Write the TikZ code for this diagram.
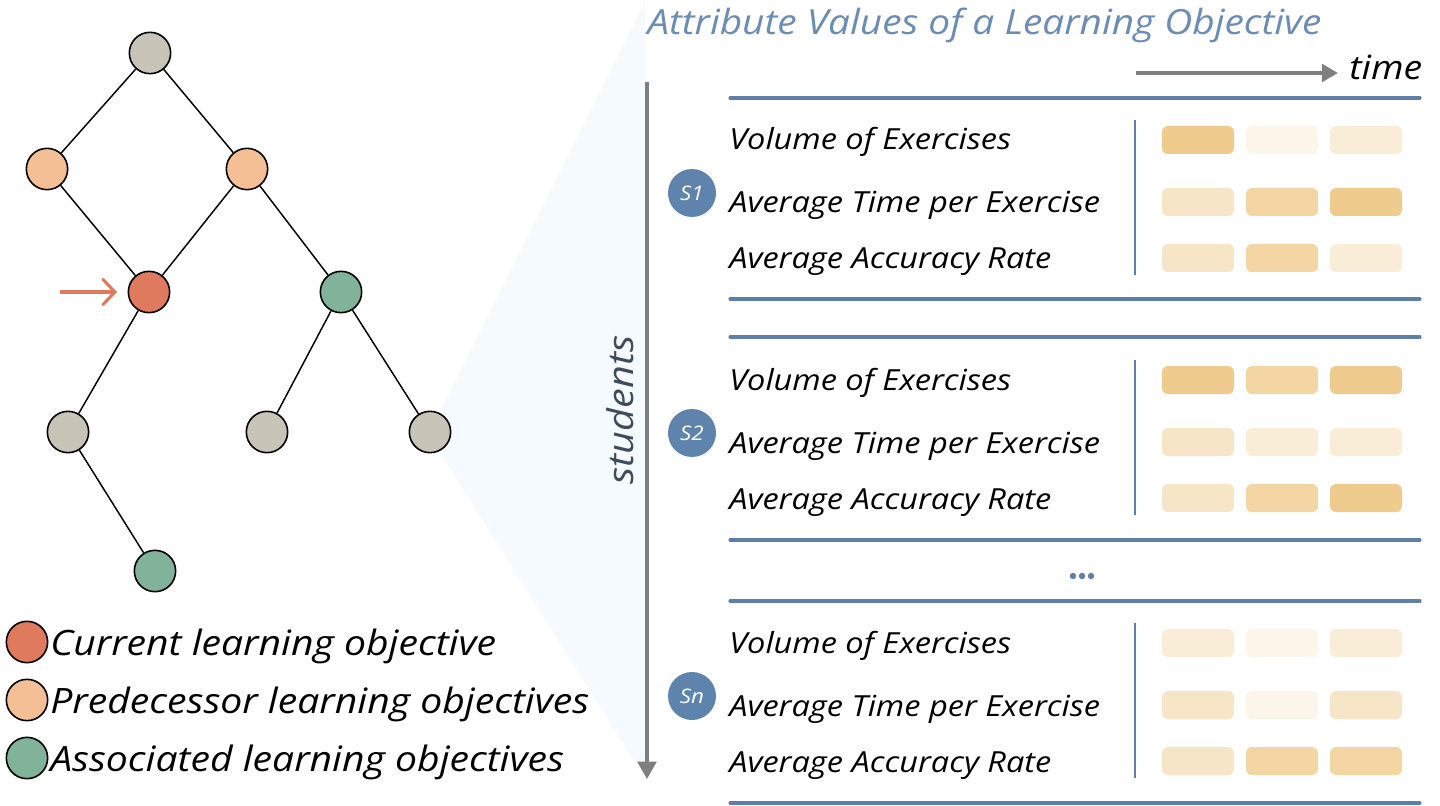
\documentclass[tikz,border=0pt]{standalone}
\usepackage{fontspec}
\setmainfont{Open Sans}[FakeStretch=1.12]
\usetikzlibrary{arrows.meta}
\definecolor{ngray}{HTML}{C9C4B8}
\definecolor{npeach}{HTML}{F5BF96}
\definecolor{nred}{HTML}{E07A5F}
\definecolor{ngreen}{HTML}{81B29A}
\definecolor{sblue}{HTML}{5E84AD}
\definecolor{lblue}{HTML}{5E80A8}
\definecolor{tblue}{HTML}{6A8CB5}
\definecolor{agray}{HTML}{7F7F7F}
\definecolor{wedge}{HTML}{F5FAFE}
\definecolor{stxt}{HTML}{3F4A5A}
\definecolor{cA}{HTML}{F0CB8E}
\definecolor{cB}{HTML}{F4D6A5}
\definecolor{cC}{HTML}{F7E5C7}
\definecolor{cD}{HTML}{FAEDD8}
\definecolor{cE}{HTML}{FCF5E9}
\tikzset{
  tnode/.style={circle, draw=black, line width=1.2pt, minimum size=31pt, inner sep=0pt},
  tedge/.style={line width=1.1pt, black},
  lbl/.style={anchor=base west, inner sep=0pt, font=\fontsize{21.8}{24}\selectfont\itshape},
  legtxt/.style={anchor=base west, inner sep=0pt, font=\fontsize{26.2}{30}\selectfont\itshape},
  stud/.style={circle, fill=sblue, minimum size=36pt, inner sep=0pt, text=white, font=\fontsize{15}{16}\selectfont\itshape},
  cell/.style={rounded corners=4.5pt, minimum width=54pt, minimum height=21pt, inner sep=0pt},
  hline/.style={lblue, line width=2.3pt, line cap=round},
  vline/.style={lblue, line width=2pt},
}
\begin{document}
\begin{tikzpicture}[x=0.75pt, y=-0.75pt]
\useasboundingbox (0,0) rectangle (1440,806);
% wedge
\fill[wedge] (436,420) -- (645,2) -- (645,778) -- (436,446) -- cycle;
% tree
\node[tnode, fill=ngray] (r) at (150,53) {};
\node[tnode, fill=npeach] (pa) at (47,169) {};
\node[tnode, fill=npeach] (pb) at (247,169) {};
\node[tnode, fill=nred] (cur) at (149,292) {};
\node[tnode, fill=ngreen] (as1) at (341,292) {};
\node[tnode, fill=ngray] (l1) at (68,432) {};
\node[tnode, fill=ngray] (l2) at (267,432) {};
\node[tnode, fill=ngray] (l3) at (430,432) {};
\node[tnode, fill=ngreen] (as2) at (155,571) {};
\draw[tedge] (r) -- (pa);
\draw[tedge] (r) -- (pb);
\draw[tedge] (pa) -- (cur);
\draw[tedge] (pb) -- (cur);
\draw[tedge] (pb) -- (as1);
\draw[tedge] (cur) -- (l1);
\draw[tedge] (as1) -- (l2);
\draw[tedge] (as1) -- (l3);
\draw[tedge] (l1) -- (as2);
\coordinate (arrs) at (60,292);
\coordinate (arre) at (117,292);
\draw[nred, line width=2.3pt, -{Straight Barb[length=9pt, width=19pt, line cap=round]}] (arrs) -- (arre);
% legend
\node[tnode, fill=nred] (lg1) at (27,642) {};
\node[tnode, fill=npeach] (lg2) at (27,700) {};
\node[tnode, fill=ngreen] (lg3) at (27,758) {};
\node[legtxt] (lt1) at (50,655) {Current learning objective};
\node[legtxt] (lt2) at (50,713) {Predecessor learning objectives};
\node[legtxt] (lt3) at (50,771) {Associated learning objectives};
% title
\node[anchor=base west, inner sep=0pt, text=tblue, font=\fontsize{26}{30}\selectfont\itshape] (title) at (647,35) {Attribute Values of a Learning Objective};
% time arrow
\coordinate (ts) at (1136,73);
\node[anchor=base west, inner sep=0pt, font=\fontsize{25}{30}\selectfont\itshape] (time) at (1349,80) {time};
\coordinate (te) at (1338,73);
\draw[agray, line width=3pt, -{Triangle[length=12pt, width=13pt]}] (ts) -- (te);
% students arrow
\coordinate (ss) at (647,82);
\coordinate (se) at (647,779);
\draw[agray, line width=2.5pt, -{Triangle[length=13pt, width=14pt]}] (ss) -- (se);
\node[rotate=90, inner sep=0pt, text=stxt, font=\fontsize{26.5}{30}\selectfont\itshape] (stl) at (620,410) {students};
% horizontal lines
\foreach \y/\n in {98/h1,299/h2,337/h3,540/h4,601/h5,803/h6}{
  \coordinate (\n a) at (730,\y);
  \coordinate (\n b) at (1420,\y);
  \draw[hline] (\n a) -- (\n b);
}
% dots
\foreach \x in {1073,1082,1091}{\fill[lblue] (\x,576) circle (2.4pt);}
% student blocks
\foreach \s/\yo/\lab/\ca/\cb/\cc/\cd/\ce/\cf/\cg/\ch/\ci in {
  1/0/S1/cA/cE/cD/cC/cB/cA/cC/cB/cD,
  2/240/S2/cA/cB/cA/cC/cD/cD/cC/cB/cA,
  3/503/Sn/cD/cE/cD/cC/cE/cC/cC/cB/cB}{
  \node[stud] (st\s) at (692,193+\yo) {\lab};
  \coordinate (va\s) at (1135,120+\yo);
  \coordinate (vb\s) at (1135,275+\yo);
  \draw[vline] (va\s) -- (vb\s);
  \node[lbl] (v\s) at (729,150+\yo) {Volume of Exercises};
  \node[lbl] (t\s) at (729,213+\yo) {Average Time per Exercise};
  \node[lbl] (a\s) at (729,269+\yo) {Average Accuracy Rate};
  \node[cell, fill=\ca] at (1198,140+\yo) {};
  \node[cell, fill=\cb] at (1282,140+\yo) {};
  \node[cell, fill=\cc] at (1366,140+\yo) {};
  \node[cell, fill=\cd] at (1198,202+\yo) {};
  \node[cell, fill=\ce] at (1282,202+\yo) {};
  \node[cell, fill=\cf] at (1366,202+\yo) {};
  \node[cell, fill=\cg] at (1198,258+\yo) {};
  \node[cell, fill=\ch] at (1282,258+\yo) {};
  \node[cell, fill=\ci] at (1366,258+\yo) {};
}
\end{tikzpicture}
\end{document}
